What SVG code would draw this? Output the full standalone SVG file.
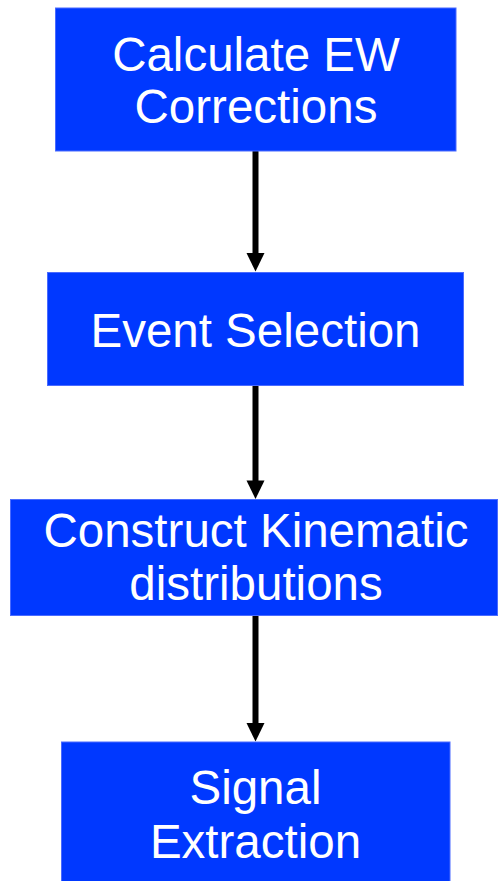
<svg xmlns="http://www.w3.org/2000/svg" width="498" height="881" viewBox="0 0 498 881">
<style>
.box{fill:#0038FF;stroke:#4a6bff;stroke-width:1}
.lbl{fill:#FFFFFF;font-family:"Liberation Sans",Arial,sans-serif;font-size:47.5px;text-anchor:middle}
.con{stroke:#000;stroke-width:6;fill:none}
.head{fill:#000}
</style>
<rect width="498" height="881" fill="#FFFFFF"/>
<g id="connectors">
<line class="con" x1="255.5" y1="151" x2="255.5" y2="255"/>
<polygon class="head" points="246.5,253 264.5,253 255.5,271.5"/>
<line class="con" x1="255.5" y1="385" x2="255.5" y2="482"/>
<polygon class="head" points="246.5,480.5 264.5,480.5 255.5,499"/>
<line class="con" x1="255.5" y1="616" x2="255.5" y2="725"/>
<polygon class="head" points="246.5,723 264.5,723 255.5,741.5"/>
</g>
<g id="n1">
<rect class="box" x="55.5" y="8" width="400.5" height="143"/>
<text class="lbl" x="256" y="71">Calculate EW</text>
<text class="lbl" x="256" y="123">Corrections</text>
</g>
<g id="n2">
<rect class="box" x="47.5" y="272.5" width="416" height="113"/>
<text class="lbl" x="255.5" y="347">Event Selection</text>
</g>
<g id="n3">
<rect class="box" x="10.5" y="499.5" width="487" height="116"/>
<text class="lbl" x="256" y="547">Construct Kinematic</text>
<text class="lbl" x="256" y="600">distributions</text>
</g>
<g id="n4">
<rect class="box" x="61.5" y="742" width="388.5" height="140"/>
<text class="lbl" x="255.5" y="804">Signal</text>
<text class="lbl" x="255.5" y="857.5">Extraction</text>
</g>
</svg>
